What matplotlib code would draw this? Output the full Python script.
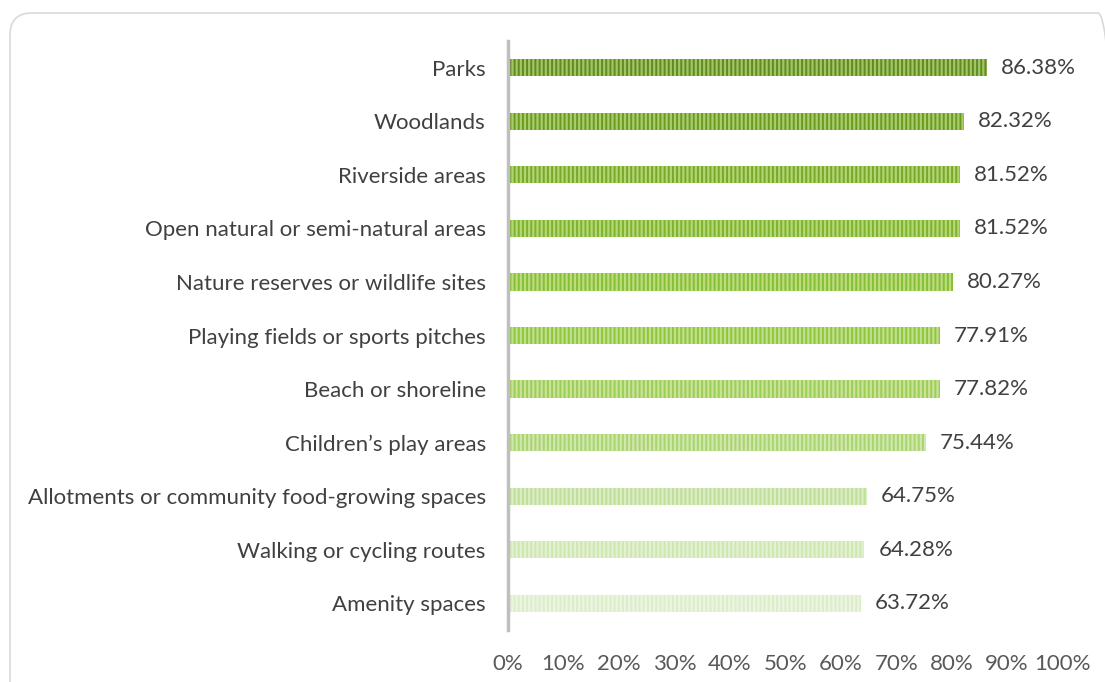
import matplotlib
matplotlib.use("Agg")
import matplotlib.pyplot as plt
from matplotlib.patches import FancyBboxPatch

categories = [
    "Parks",
    "Woodlands",
    "Riverside areas",
    "Open natural or semi-natural areas",
    "Nature reserves or wildlife sites",
    "Playing fields or sports pitches",
    "Beach or shoreline",
    "Children\u2019s play areas",
    "Allotments or community food-growing spaces",
    "Walking or cycling routes",
    "Amenity spaces",
]
values = [86.38, 82.32, 81.52, 81.52, 80.27, 77.91, 77.82, 75.44, 64.75, 64.28, 63.72]
xticks = [0, 10, 20, 30, 40, 50, 60, 70, 80, 90, 100]

dark_cols = ["#5f8b1f", "#6a9a23", "#76a928", "#7db42b", "#86bf33", "#8fc63f",
             "#9ccd55", "#a9d46e", "#bfdf98", "#cfe6b1", "#dcedc8"]
light_cols = ["#a3c568", "#aacd6c", "#b2d472", "#b6d777", "#bcdc80", "#c2df8a",
              "#c9e39a", "#d0e7ad", "#dbedc5", "#e3f1d3", "#ecf5e2"]

plt.rcParams['font.family'] = ['Lato', 'DejaVu Sans']
plt.rcParams['hatch.linewidth'] = 1.4

W, H = 1105, 682
FS = 16
fig = plt.figure(figsize=(W / 100, H / 100), dpi=100)

frame = FancyBboxPatch((0.10, -0.5), 11.1, (H - 13) / 100 + 0.5,
                       boxstyle="round,pad=0,rounding_size=0.22",
                       transform=fig.dpi_scale_trans, facecolor="none",
                       edgecolor="#d9d9d9", linewidth=1.2, zorder=-1)
fig.patches.append(frame)

ax = fig.add_axes([508 / W, 1 - 630 / H, 554.5 / W, (630 - 41) / H])
ax.set_facecolor("none")

ypos = list(range(len(categories)))
for i, (v, dc, lc) in enumerate(zip(values, dark_cols, light_cols)):
    ax.barh(i, v, height=0.32, color=lc, edgecolor=dc, hatch="||||",
            linewidth=0, zorder=2)
    ax.text(v + 2.5, i, f"{v:.2f}%", va="center", ha="left",
            fontsize=FS, color="#404040")

ax.set_ylim(len(categories) - 0.5, -0.5)
ax.set_xlim(0, 100)
ax.set_yticks(ypos)
ax.set_yticklabels(categories, fontsize=FS, color="#404040")
ax.set_xticks(xticks)
ax.set_xticklabels([f"{t}%" for t in xticks], fontsize=FS, color="#595959")
ax.tick_params(axis="both", length=0)
ax.tick_params(axis="y", pad=16)
ax.tick_params(axis="x", pad=17)

for s in ["top", "right", "bottom"]:
    ax.spines[s].set_visible(False)
ax.spines["left"].set_color("#bfbfbf")
ax.spines["left"].set_linewidth(2.5)
ax.spines["left"].set_zorder(3)

fig.savefig("out.png", dpi=100)
